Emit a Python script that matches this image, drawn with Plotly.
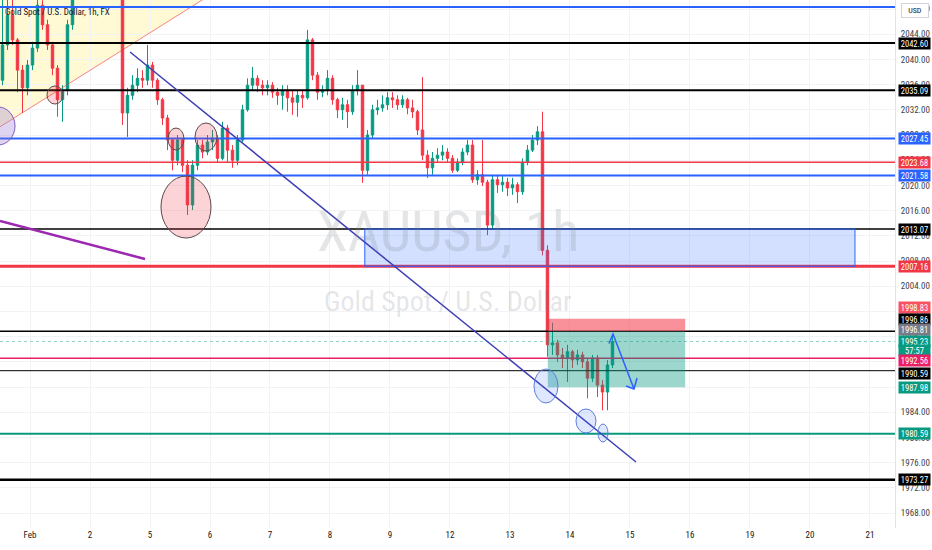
import plotly.graph_objects as go

# 2h candles, XAUUSD, from Jan 31 midday to Feb 14 afternoon
opens = [2036.7, 2042.3, 2047.0, 2043.1, 2038.3, 2035.5, 2039.1, 2041.8, 2048.6, 2045.5,
         2042.3, 2038.6, 2033.6, 2035.1, 2045.5, 2051.8, 2053.6, 2055.2, 2056.0, 2054.4,
         2055.8, 2057.1, 2055.3, 2054.0, 2052.6, 2031.5, 2034.3, 2035.9, 2037.0, 2036.7,
         2039.1, 2036.7, 2033.6, 2030.7, 2027.2, 2024.0, 2027.2, 2023.2, 2016.9, 2023.2,
         2026.4, 2025.3, 2026.9, 2027.5, 2024.3, 2029.1, 2025.6, 2024.0, 2027.2, 2032.0,
         2035.9, 2037.0, 2035.9, 2035.5, 2035.9, 2034.8, 2034.3, 2035.1, 2033.9, 2033.2,
         2034.3, 2033.9, 2043.1, 2037.5, 2034.8, 2035.1, 2037.0, 2033.6, 2032.0, 2032.8,
         2031.7, 2035.1, 2035.9, 2022.4, 2028.0, 2032.0, 2032.3, 2032.8, 2033.9, 2033.6,
         2032.8, 2033.6, 2032.3, 2031.7, 2028.8, 2024.8, 2022.8, 2024.3, 2024.8, 2025.3,
         2024.3, 2022.4, 2023.7, 2025.3, 2026.4, 2020.9, 2021.7, 2020.5, 2013.7, 2020.9,
         2020.1, 2020.5, 2019.6, 2020.1, 2019.0, 2023.7, 2025.6, 2027.2, 2028.5, 2009.7,
         1994.7, 1995.0, 1993.1, 1992.6, 1993.6, 1992.3, 1993.1, 1992.0, 1989.4, 1992.6,
         1988.3, 1987.2, 1991.5]
highs = [2050.2, 2051.0, 2050.2, 2043.4, 2039.1, 2039.9, 2042.8, 2051.0, 2049.4, 2046.3,
         2042.8, 2039.1, 2035.9, 2046.3, 2053.4, 2055.0, 2056.4, 2057.5, 2056.8, 2057.0,
         2058.3, 2057.6, 2055.9, 2054.8, 2053.5, 2035.5, 2037.5, 2038.6, 2038.3, 2042.3,
         2039.6, 2037.0, 2033.9, 2031.2, 2027.5, 2028.0, 2027.5, 2024.0, 2024.0, 2027.2,
         2027.2, 2028.0, 2028.8, 2028.0, 2030.1, 2029.6, 2026.4, 2028.0, 2032.8, 2037.0,
         2038.8, 2037.5, 2036.7, 2036.7, 2036.4, 2035.5, 2035.9, 2035.9, 2035.1, 2035.1,
         2035.1, 2044.7, 2043.4, 2038.0, 2035.9, 2038.3, 2037.5, 2033.9, 2033.9, 2033.6,
         2035.9, 2038.3, 2035.9, 2028.8, 2032.8, 2033.6, 2034.3, 2034.8, 2034.8, 2034.3,
         2034.3, 2033.9, 2033.6, 2032.0, 2037.2, 2025.6, 2025.3, 2025.9, 2026.4, 2025.9,
         2024.8, 2024.3, 2025.9, 2027.2, 2027.2, 2022.4, 2027.2, 2020.9, 2021.7, 2021.7,
         2021.5, 2021.2, 2021.2, 2020.5, 2024.3, 2026.4, 2028.0, 2029.4, 2031.7, 2010.5,
         1998.2, 1995.5, 1994.2, 1994.7, 1993.9, 1993.9, 1993.6, 1992.6, 1993.1, 1993.1,
         1989.1, 1992.3, 1996.3]
lows = [2035.9, 2041.5, 2042.3, 2034.8, 2031.5, 2034.3, 2038.3, 2041.2, 2044.7, 2041.5,
        2037.5, 2030.9, 2030.1, 2034.3, 2044.7, 2051.2, 2052.8, 2054.1, 2053.2, 2053.9,
        2055.0, 2054.2, 2052.5, 2051.0, 2029.6, 2027.7, 2033.6, 2034.8, 2035.5, 2035.9,
        2035.5, 2032.8, 2029.6, 2025.6, 2022.4, 2023.2, 2022.1, 2015.3, 2016.1, 2022.4,
        2024.3, 2024.8, 2025.6, 2023.7, 2024.0, 2023.7, 2022.8, 2023.2, 2026.9, 2031.7,
        2035.1, 2034.8, 2034.3, 2034.3, 2033.9, 2032.8, 2032.0, 2031.7, 2031.2, 2030.9,
        2032.3, 2033.6, 2036.7, 2033.6, 2034.0, 2034.3, 2032.8, 2030.7, 2030.4, 2029.1,
        2031.2, 2034.3, 2020.4, 2021.7, 2027.5, 2031.2, 2031.7, 2032.0, 2032.3, 2032.0,
        2032.3, 2031.3, 2030.7, 2028.0, 2024.0, 2021.2, 2021.7, 2023.7, 2024.0, 2023.6,
        2022.0, 2022.1, 2023.2, 2024.8, 2020.4, 2020.1, 2019.9, 2012.1, 2013.2, 2018.8,
        2019.0, 2018.3, 2018.5, 2017.2, 2018.5, 2023.2, 2025.3, 2026.4, 2008.9, 1992.8,
        1993.1, 1992.0, 1991.0, 1988.8, 1991.0, 1991.5, 1991.0, 1986.2, 1988.8, 1986.4,
        1984.3, 1984.3, 1991.0]
closes = [2042.3, 2047.0, 2043.1, 2038.3, 2035.5, 2039.1, 2041.8, 2048.6, 2045.5, 2042.3,
          2038.6, 2033.6, 2035.1, 2045.5, 2051.8, 2053.6, 2055.2, 2056.0, 2054.4, 2055.8,
          2057.1, 2055.3, 2054.0, 2052.6, 2031.5, 2034.3, 2035.9, 2037.0, 2036.7, 2039.1,
          2036.7, 2033.6, 2030.7, 2027.2, 2024.0, 2027.2, 2023.2, 2016.9, 2023.2, 2026.4,
          2025.3, 2026.9, 2027.5, 2024.3, 2029.1, 2025.6, 2024.0, 2027.2, 2032.0, 2035.9,
          2037.0, 2035.9, 2035.5, 2035.9, 2034.8, 2034.3, 2035.1, 2033.9, 2033.2, 2034.3,
          2033.9, 2043.1, 2037.5, 2034.8, 2035.1, 2037.0, 2033.6, 2032.0, 2032.8, 2031.7,
          2035.1, 2035.9, 2022.4, 2028.0, 2032.0, 2032.3, 2032.8, 2033.9, 2033.6, 2032.8,
          2033.6, 2032.3, 2031.7, 2028.8, 2024.8, 2022.8, 2024.3, 2024.8, 2025.3, 2024.3,
          2022.4, 2023.7, 2025.3, 2026.4, 2020.9, 2021.7, 2020.5, 2013.7, 2020.9, 2020.1,
          2020.5, 2019.6, 2020.1, 2019.0, 2023.7, 2025.6, 2027.2, 2028.5, 2009.7, 1994.7,
          1995.0, 1993.1, 1992.6, 1993.6, 1992.3, 1993.1, 1992.0, 1989.4, 1992.6, 1988.3,
          1987.2, 1991.5, 1995.23]

day_labels = ["Feb", "2", "5", "6", "7", "8", "9", "12", "13", "14", "15", "16", "19", "20", "21"]
price_ticks = [1968, 1972, 1976, 1980, 1984, 1988, 1992, 1996, 2000, 2004, 2008,
               2012, 2016, 2020, 2024, 2028, 2032, 2036, 2040, 2044, 2048]

# horizontal levels drawn on the chart: price, colour, width
levels = [2048.32, 2042.60, 2035.09, 2027.45, 2023.68, 2021.58, 2013.07, 2007.16,
          1996.86, 1992.56, 1990.59, 1980.59, 1973.27]
level_colors = ["#2962ff", "#000000", "#000000", "#2962ff", "#f23645", "#2962ff", "#000000",
                "#f23645", "#000000", "#e91e63", "#000000", "#089981", "#000000"]
level_widths = [2, 2, 2, 2, 1.5, 2, 1.5, 3, 1.5, 1.5, 1, 2, 2.5]

# price-scale tags: text, where it sits, background
tag_texts = ["2042.60", "2035.09", "2027.45", "2023.68", "2021.58", "2013.07", "2007.16",
             "1998.83", "1996.86", "1996.81", "1995.23", "57:57", "1992.56", "1990.59",
             "1987.98", "1980.59", "1973.27"]
tag_y = [2042.60, 2035.09, 2027.45, 2023.68, 2021.58, 2013.07, 2007.16,
         2000.70, 1998.79, 1997.05, 1995.30, 1993.85, 1992.13, 1990.22, 1988.00,
         1980.59, 1973.27]
tag_colors = ["#000000", "#000000", "#2962ff", "#f23645", "#2962ff", "#000000", "#f23645",
              "#f7525f", "#000000", "#787b86", "#089981", "#089981", "#e91e63", "#000000",
              "#089981", "#089981", "#000000"]

BARS_PER_DAY = 12
FIRST_BAR = -5.5  # first bar sits 5.5 bars before the Feb 1 session start
xs = [(i + FIRST_BAR) / BARS_PER_DAY for i in range(len(closes))]

FONT = "Roboto Condensed, Liberation Sans Narrow, DejaVu Sans Condensed, Liberation Sans, sans-serif"

fig = go.Figure()

fig.add_trace(go.Candlestick(
    x=xs, open=opens, high=highs, low=lows, close=closes,
    increasing=dict(line=dict(color="#089981", width=1), fillcolor="#089981"),
    decreasing=dict(line=dict(color="#f23645", width=1), fillcolor="#f23645"),
    whiskerwidth=0, hoverinfo="skip",
))

shapes = []

# yellow triangle area + its red edge (top left)
shapes.append(dict(type="path", path="M -0.6,2050 L -0.5,2029.3 L 2.88,2049.43 L 2.98,2050 Z",
                   fillcolor="rgba(255,235,100,0.28)", line=dict(width=0), layer="below"))
shapes.append(dict(type="line", x0=-0.5, y0=2029.3, x1=3.3, y1=2052,
                   line=dict(color="rgba(242,54,69,0.6)", width=1)))

for lv, col, w in zip(levels, level_colors, level_widths):
    shapes.append(dict(type="line", xref="paper", x0=0, x1=1, y0=lv, y1=lv,
                       line=dict(color=col, width=w)))

# live price line
shapes.append(dict(type="line", xref="paper", x0=0, x1=1, y0=1995.23, y1=1995.23,
                   line=dict(color="rgba(8,153,129,0.45)", width=1, dash="dot")))

# blue zone
shapes.append(dict(type="rect", x0=5.58, x1=13.75, y0=2007.16, y1=2013.07,
                   fillcolor="rgba(41,98,255,0.2)", line=dict(color="#2962ff", width=1)))

# short position tool
shapes.append(dict(type="rect", x0=8.63, x1=10.92, y0=1996.86, y1=1998.83,
                   fillcolor="rgba(242,54,69,0.55)", line=dict(width=0)))
shapes.append(dict(type="rect", x0=8.63, x1=10.92, y0=1987.98, y1=1996.86,
                   fillcolor="rgba(8,153,129,0.4)", line=dict(width=0)))

# trend lines
shapes.append(dict(type="line", x0=1.667, y0=2041.18, x1=10.1, y1=1976.1,
                   line=dict(color="#3f3fb5", width=1.5)))
shapes.append(dict(type="line", x0=-0.5, y0=2014.35, x1=1.917, y1=2008.32,
                   line=dict(color="#9c27b0", width=2.5)))

# circles
pink = dict(fillcolor="rgba(242,54,69,0.22)", line=dict(color="#5d4a4a", width=1))
shapes.append(dict(type="circle", x0=0.283, x1=0.55, y0=2032.92, y1=2035.78, **pink))
shapes.append(dict(type="circle", x0=2.30, x1=2.567, y0=2025.62, y1=2029.11, **pink))
shapes.append(dict(type="circle", x0=2.75, x1=3.117, y0=2025.46, y1=2029.91, **pink))
shapes.append(dict(type="circle", x0=2.183, x1=3.017, y0=2011.65, y1=2021.49, **pink))
shapes.append(dict(type="circle", x0=-0.817, x1=-0.25, y0=2026.41, y1=2032.45,
                   fillcolor="rgba(149,117,205,0.3)", line=dict(color="#7e57c2", width=1)))
blue_c = dict(fillcolor="rgba(41,98,255,0.15)", line=dict(color="#5b7fdb", width=1))
shapes.append(dict(type="circle", x0=8.4, x1=8.8, y0=1985.46, y1=1990.86, **blue_c))
shapes.append(dict(type="circle", x0=9.1, x1=9.433, y0=1980.7, y1=1984.51, **blue_c))
shapes.append(dict(type="circle", x0=9.467, x1=9.633, y0=1979.27, y1=1982.13, **blue_c))

# projected path arrow
shapes.append(dict(type="path",
                   path="M 9.65,1994.9 L 9.717,1996.41 L 10.067,1987.68 "
                        "M 9.933,1988.16 L 10.067,1987.68 L 10.117,1989.43",
                   line=dict(color="#2962ff", width=1.5)))

fig.update_layout(shapes=shapes)

ann = []
# watermark
ann.append(dict(text="XAUUSD, 1h", xref="paper", x=0.5, yref="y", y=2012.6, showarrow=False,
                font=dict(family=FONT, size=56, color="rgba(120,123,134,0.2)")))
ann.append(dict(text="Gold Spot / U.S. Dollar", xref="paper", x=0.5, yref="y", y=2001.5,
                showarrow=False, font=dict(family=FONT, size=28, color="rgba(120,123,134,0.2)")))
# symbol title
ann.append(dict(text="Gold Spot / U.S. Dollar, 1h, FX", xref="paper", x=0, xanchor="left",
                xshift=3, yref="paper", y=1, yanchor="top", yshift=-5, showarrow=False,
                font=dict(family=FONT, size=9, color="#131722")))
# currency box
ann.append(dict(text="USD", xref="paper", x=1, xanchor="left", xshift=6, yref="paper", y=1,
                yanchor="top", yshift=-3, showarrow=False, bgcolor="white",
                bordercolor="#d1d4dc", borderwidth=1, borderpad=2, width=22,
                font=dict(family=FONT, size=8, color="#131722")))
for t, yv, col in zip(tag_texts, tag_y, tag_colors):
    ann.append(dict(text=t, xref="paper", x=1, xanchor="left", xshift=3, yref="y", y=yv,
                    showarrow=False, bgcolor=col, borderpad=1, width=29, height=9,
                    font=dict(family=FONT, size=8.5, color="white")))
fig.update_layout(annotations=ann)

fig.update_layout(
    width=932, height=550,
    margin=dict(l=0, r=37, t=0, b=22),
    plot_bgcolor="white", paper_bgcolor="white",
    showlegend=False,
    xaxis=dict(range=[-0.5, 14.417], tickvals=list(range(len(day_labels))), ticktext=day_labels,
               showgrid=True, gridcolor="#f2f3f6", zeroline=False, showline=False,
               rangeslider=dict(visible=False), ticks="",
               tickfont=dict(family=FONT, size=9, color="#131722")),
    yaxis=dict(range=[1965.62, 2049.43], side="right", tickvals=price_ticks,
               ticktext=[f"{v:.2f}" for v in price_ticks],
               showgrid=True, gridcolor="#f2f3f6", zeroline=False,
               showline=True, linecolor="#e0e3eb", ticks="", ticklabelstandoff=3,
               tickfont=dict(family=FONT, size=9, color="#3b3f4a")),
)

# drop the default page margin so the figure sits at the window's top-left corner
fig.write_html("out.html", config={"displayModeBar": False},
               post_script="document.body.style.margin='0px';")
